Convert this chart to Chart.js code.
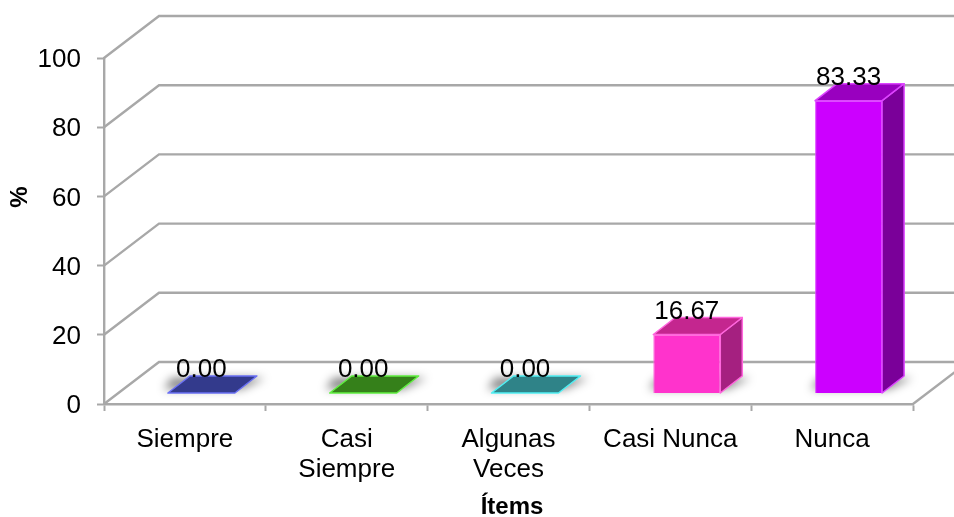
<!DOCTYPE html>
<html><head><meta charset="utf-8">
<style>html,body{margin:0;padding:0;background:#fff}canvas{display:block}</style>
<script src="https://cdn.jsdelivr.net/npm/chart.js@4"></script>
</head><body><canvas id="c" width="954" height="517"></canvas>
<script>
const categories = ['Siempre', ['Casi','Siempre'], ['Algunas','Veces'], 'Casi Nunca', 'Nunca'];
const values = [0.00, 0.00, 0.00, 16.67, 83.33];
const yTicks = [0, 20, 40, 60, 80, 100];
const frontColors = ['#4a50c8', '#48c020', '#40c8cc', '#ff33cc', '#cc00ff'];
const topColors = ['#333a8c', '#35801a', '#2f8388', '#c4268f', '#9900bf'];
const sideColors = ['#2c3278', '#2c6c16', '#286f74', '#a52080', '#7a0099'];
const edgeColors = ['#6a70f4', '#60f040', '#50f0f4', '#ff66dd', '#dd44ff'];
const xTitle = 'Ítems';
const yTitle = '%';

const FONT = '"Liberation Sans", Arial, sans-serif';
const GRID = '#a8a8a8';
const WALL = {dx: 55, dy: -42};
const BAR = {dx: 22, dy: -17, shift: 16.5};

function poly(ctx, pts){
  ctx.beginPath();
  pts.forEach((p,i)=> i ? ctx.lineTo(p[0],p[1]) : ctx.moveTo(p[0],p[1]));
  ctx.closePath();
}
const bars3d = {
  id: 'bars3d',
  beforeDatasetsDraw(chart){
    const {ctx, scales:{x,y}, chartArea:a} = chart;
    ctx.save();
    ctx.strokeStyle = GRID; ctx.lineWidth = 2.4;
    yTicks.forEach(v=>{
      const py = y.getPixelForValue(v);
      ctx.beginPath();
      ctx.moveTo(a.left, py);
      ctx.lineTo(a.left+WALL.dx, py+WALL.dy);
      ctx.lineTo(954, py+WALL.dy);
      ctx.stroke();
    });
    const py0 = y.getPixelForValue(0);
    ctx.beginPath();
    ctx.moveTo(a.right, py0);
    ctx.lineTo(a.right+WALL.dx, py0+WALL.dy);
    ctx.stroke();
    // floor shadows
    const els = chart.getDatasetMeta(0).data;
    els.forEach(el=>{
      const x0 = el.x-el.width/2+BAR.shift, x1 = el.x+el.width/2+BAR.shift, b = el.base;
      ctx.save();
      ctx.filter = 'blur(5px)';
      ctx.fillStyle = 'rgba(0,0,0,0.5)';
      poly(ctx,[[x0-4,b-4],[x1+6,b-4],[x1+BAR.dx+8,b-15],[x0+BAR.dx-18,b-15]]);
      ctx.fill();
      ctx.restore();
    });
    ctx.restore();
    ctx.save();
    ctx.translate(BAR.shift, 0);
  },
  afterDatasetsDraw(chart){
    const {ctx} = chart;
    ctx.restore();
    const els = chart.getDatasetMeta(0).data;
    ctx.save();
    els.forEach((el,i)=>{
      const x0 = el.x-el.width/2+BAR.shift, x1 = el.x+el.width/2+BAR.shift, t = el.y, b = el.base;
      ctx.lineWidth = 1.5; ctx.lineJoin = 'round';
      ctx.strokeStyle = edgeColors[i];
      if (b-t > 1){
        ctx.fillStyle = sideColors[i];
        poly(ctx,[[x1,t],[x1+BAR.dx,t+BAR.dy],[x1+BAR.dx,b+BAR.dy],[x1,b]]);
        ctx.fill(); ctx.stroke();
      }
      ctx.fillStyle = topColors[i];
      poly(ctx,[[x0,t],[x1,t],[x1+BAR.dx,t+BAR.dy],[x0+BAR.dx,t+BAR.dy]]);
      ctx.fill(); ctx.stroke();
      ctx.fillStyle = '#000';
      ctx.font = '26px '+FONT;
      ctx.textAlign = 'center'; ctx.textBaseline = 'alphabetic';
      ctx.fillText(values[i].toFixed(2), (x0+x1)/2, t+BAR.dy+1);
    });
    ctx.restore();
  },
  afterDraw(chart){
    const {ctx} = chart;
    ctx.save();
    ctx.fillStyle = '#000';
    ctx.font = 'bold 24px '+FONT;
    ctx.textAlign = 'center'; ctx.textBaseline = 'middle';
    ctx.fillText(xTitle, 512, 507);
    ctx.translate(20, 197);
    ctx.rotate(-Math.PI/2);
    ctx.fillText(yTitle, 0, 0);
    ctx.restore();
  }
};

new Chart(document.getElementById('c'), {
  type: 'bar',
  plugins: [bars3d],
  data: {
    labels: categories,
    datasets: [{
      data: values,
      yAxisID: 'yBar',
      backgroundColor: frontColors,
      borderColor: edgeColors,
      borderWidth: 1,
      barPercentage: 0.414,
      categoryPercentage: 1
    }]
  },
  options: {
    responsive: false,
    animation: false,
    events: [],
    layout: {padding: {top: 58, right: 41, left: 0, bottom: 0}},
    plugins: {legend: {display: false}, tooltip: {enabled: false}, title: {display: false}},
    scales: {
      x: {
        afterFit(s){ s.height = 113; },
        grid: {drawOnChartArea: false, tickLength: 7, tickColor: GRID, tickWidth: 2},
        border: {color: GRID, width: 2.4},
        ticks: {color: '#000', font: {family: FONT, size: 26, lineHeight: 1.15}, padding: 14, maxRotation: 0, autoSkip: false}
      },
      y: {
        position: 'left',
        min: 0, max: 100,
        afterFit(s){ s.width = 104; },
        afterUpdate(s){
          if (s._labelNudged) return;
          s._labelNudged = true;
          const orig = s._computeLabelItems;
          s._computeLabelItems = function(c){
            const items = orig.call(this, c);
            items.forEach(it => { it.options.translation[1] += 2; });
            return items;
          };
        },
        grid: {drawOnChartArea: false, tickLength: 7, tickColor: GRID, tickWidth: 2},
        border: {color: GRID, width: 2.4},
        ticks: {stepSize: 20, color: '#000', font: {family: FONT, size: 26}, padding: 16}
      },
      yBar: {
        display: false,
        min: -3.136, max: 95.5
      }
    }
  }
});
</script></body></html>
